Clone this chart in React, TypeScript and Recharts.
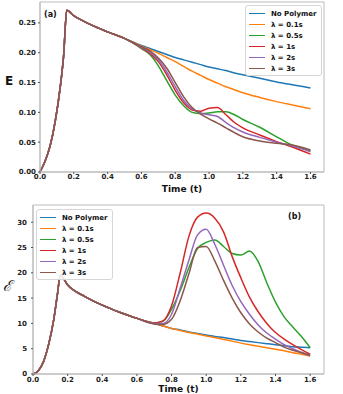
import { LineChart, Line, XAxis, YAxis, ReferenceArea, Label } from 'recharts';

const seriesNames = ['No Polymer', 'λ = 0.1s', 'λ = 0.5s', 'λ = 1s', 'λ = 2s', 'λ = 3s'];
const seriesColors = ['#1f77b4', '#ff7f0e', '#2ca02c', '#d62728', '#9467bd', '#8c564b'];

const xTicks = [0, 0.2, 0.4, 0.6, 0.8, 1.0, 1.2, 1.4, 1.6];
const eTicks = [0, 0.05, 0.1, 0.15, 0.2, 0.25];
const energyTicks = [0, 5, 10, 15, 20, 25, 30];

// (a) E(t) -- shared part up to t = 0.5, then one tail per series
const timeA = [0, 0.03, 0.06, 0.09, 0.12, 0.14, 0.158, 0.2, 0.3, 0.4, 0.5,
  0.6, 0.65, 0.7, 0.75, 0.8, 0.85, 0.9, 0.95, 1.0, 1.05, 1.1, 1.15, 1.2, 1.3, 1.4, 1.5, 1.6];
const riseA = [0, 0.018, 0.044, 0.085, 0.143, 0.196, 0.271, 0.262, 0.247, 0.235, 0.224];
const noPolymerA = [0.212, 0.207, 0.202, 0.197, 0.192, 0.188, 0.184, 0.18, 0.176, 0.173, 0.17, 0.166, 0.163, 0.157, 0.151, 0.146, 0.141];
const lam01A = [0.211, 0.205, 0.199, 0.192, 0.185, 0.177, 0.169, 0.162, 0.155, 0.149, 0.143, 0.138, 0.133, 0.125, 0.118, 0.112, 0.106];
const lam05A = [0.207, 0.197, 0.178, 0.153, 0.129, 0.111, 0.1, 0.098, 0.099, 0.101, 0.101, 0.096, 0.088, 0.075, 0.059, 0.044, 0.036];
const lam1A = [0.208, 0.199, 0.185, 0.163, 0.137, 0.116, 0.104, 0.102, 0.107, 0.108, 0.096, 0.083, 0.074, 0.062, 0.051, 0.041, 0.03];
const lam2A = [0.209, 0.201, 0.188, 0.168, 0.143, 0.12, 0.106, 0.099, 0.096, 0.093, 0.083, 0.074, 0.067, 0.058, 0.05, 0.043, 0.034];
const lam3A = [0.21, 0.203, 0.191, 0.174, 0.15, 0.126, 0.108, 0.097, 0.089, 0.082, 0.074, 0.066, 0.059, 0.052, 0.048, 0.045, 0.037];

// (b) energy -- shared part up to t = 0.6
const timeB = [0, 0.03, 0.06, 0.09, 0.12, 0.14, 0.158, 0.2, 0.3, 0.4, 0.5, 0.6,
  0.7, 0.75, 0.8, 0.85, 0.9, 0.95, 1.0, 1.05, 1.1, 1.15, 1.2, 1.25, 1.3, 1.35, 1.4, 1.45, 1.5, 1.55, 1.6];
const riseB = [0, 0.6, 2.4, 5.8, 10.8, 15.5, 19.5, 17.6, 15.3, 13.6, 12.2, 11.0];
const noPolymerB = [10.0, 9.5, 9.0, 8.7, 8.3, 8.0, 7.7, 7.4, 7.2, 6.9, 6.6, 6.4, 6.2, 6.0, 5.8, 5.6, 5.4, 5.3, 5.2];
const lam01B = [10.0, 9.5, 9.0, 8.6, 8.2, 7.9, 7.5, 7.2, 6.8, 6.5, 6.1, 5.8, 5.5, 5.2, 4.9, 4.6, 4.2, 3.9, 3.55];
const lam05B = [10.1, 10.4, 12.8, 16.5, 21.0, 24.8, 26.0, 26.5, 25.2, 23.8, 23.5, 24.3, 22.2, 18.0, 14.2, 11.3, 9.3, 7.4, 5.2];
const lam1B = [10.1, 10.5, 13.5, 20.0, 27.2, 31.0, 31.8, 30.8, 28.1, 23.2, 19.0, 15.2, 12.3, 10.0, 8.2, 6.9, 5.8, 4.8, 3.9];
const lam2B = [10.0, 10.0, 11.8, 17.0, 22.5, 27.5, 28.6, 25.6, 21.5, 17.5, 14.3, 11.8, 9.7, 8.1, 6.9, 5.8, 5.0, 4.3, 3.6];
const lam3B = [9.9, 9.8, 10.8, 14.5, 19.8, 25.0, 25.2, 22.3, 18.5, 15.0, 12.1, 9.9, 8.3, 7.1, 6.2, 5.3, 4.7, 4.2, 3.75];

function buildRows(time: number[], rise: number[], tails: number[][]) {
  return time.map((t, i) => {
    const row: Record<string, number> = { t };
    tails.forEach((tail, k) => {
      row['s' + k] = i < rise.length ? rise[i] : tail[i - rise.length];
    });
    return row;
  });
}

const dataA = buildRows(timeA, riseA, [noPolymerA, lam01A, lam05A, lam1A, lam2A, lam3A]);
const dataB = buildRows(timeB, riseB, [noPolymerB, lam01B, lam05B, lam1B, lam2B, lam3B]);

const FONT = 'DejaVu Sans';
const tickStyle = { fontSize: 7, fontWeight: 'bold', fill: '#222', fontFamily: FONT };

function LegendBox({ left, top }: { left: number; top: number }) {
  return (
    <div
      style={{
        position: 'absolute',
        left,
        top,
        border: '1px solid #d6d6d6',
        borderRadius: 3,
        background: 'rgba(255,255,255,0.85)',
        padding: '2px 4px 1px 3px',
        fontFamily: FONT,
        fontSize: 7,
        fontWeight: 'bold',
        color: '#111',
      }}
    >
      {seriesNames.map((name, i) => (
        <div key={name} style={{ display: 'flex', alignItems: 'center', height: 11 }}>
          <span style={{ width: 16, borderTop: `1.5px solid ${seriesColors[i]}`, marginRight: 6 }} />
          <span>{name}</span>
        </div>
      ))}
    </div>
  );
}

function seriesLines() {
  return seriesNames.map((name, i) => (
    <Line
      key={name}
      type="monotone"
      dataKey={'s' + i}
      stroke={seriesColors[i]}
      strokeWidth={1.5}
      dot={false}
      isAnimationActive={false}
    />
  ));
}

export default function App() {
  return (
    <div style={{ position: 'absolute', left: 0, top: 0, width: 343, height: 394, background: '#fff' }}>
      <div style={{ position: 'absolute', left: 0, top: 0 }}>
        <LineChart width={343} height={197} data={dataA} margin={{ top: 2, right: 19, left: 0, bottom: 0 }}>
          <XAxis
            dataKey="t"
            type="number"
            domain={[0, 1.68]}
            ticks={xTicks}
            tickFormatter={(v: number) => v.toFixed(1)}
            height={25}
            tick={tickStyle}
            tickSize={2}
            tickMargin={0}
            stroke="#bbb"
            tickLine={{ stroke: '#555' }}
          >
            <Label value="Time (t)" position="insideBottom" offset={5} style={{ fontSize: 9, fontWeight: 'bold', fill: '#111', fontFamily: FONT }} />
          </XAxis>
          <YAxis
            type="number"
            domain={[0, 0.285]}
            ticks={eTicks}
            tickFormatter={(v: number) => v.toFixed(2)}
            width={40}
            tick={tickStyle}
            tickSize={2}
            tickMargin={2}
            stroke="#bbb"
            tickLine={{ stroke: '#555' }}
          >
            <Label value="E" position="insideLeft" offset={5} dy={-6} style={{ fontSize: 12, fontWeight: 'bold', fill: '#111', fontFamily: FONT }} />
          </YAxis>
          <ReferenceArea x1={0} x2={1.68} y1={0} y2={0.285} fill="none" stroke="#bbb" strokeWidth={1} />
          {seriesLines()}
        </LineChart>
      </div>

      <div style={{ position: 'absolute', left: 0, top: 195 }}>
        <LineChart width={343} height={199} data={dataB} margin={{ top: 10, right: 19, left: 0, bottom: 0 }}>
          <XAxis
            dataKey="t"
            type="number"
            domain={[0, 1.68]}
            ticks={xTicks}
            tickFormatter={(v: number) => v.toFixed(1)}
            height={20}
            tick={tickStyle}
            tickSize={2}
            tickMargin={1}
            stroke="#bbb"
            tickLine={{ stroke: '#555' }}
          >
            <Label value="Time (t)" position="insideBottom" offset={2} style={{ fontSize: 9, fontWeight: 'bold', fill: '#111', fontFamily: FONT }} />
          </XAxis>
          <YAxis
            type="number"
            domain={[0, 33.4]}
            ticks={energyTicks}
            width={33}
            tick={tickStyle}
            tickSize={2}
            tickMargin={4}
            stroke="#bbb"
            tickLine={{ stroke: '#555' }}
          >
            <Label value="ℰ" position="insideLeft" offset={3} dy={-4} style={{ fontSize: 15, fill: '#111', fontFamily: 'DejaVu Serif', fontStyle: 'italic' }} />
          </YAxis>
          <ReferenceArea x1={0} x2={1.68} y1={0} y2={33.4} fill="none" stroke="#bbb" strokeWidth={1} />
          {seriesLines()}
        </LineChart>
      </div>

      <LegendBox left={245} top={5} />
      <LegendBox left={36} top={209} />

      <div style={{ position: 'absolute', left: 44, top: 10, fontFamily: FONT, fontSize: 8, fontWeight: 'bold', color: '#111' }}>(a)</div>
      <div style={{ position: 'absolute', left: 288, top: 212, fontFamily: FONT, fontSize: 8, fontWeight: 'bold', color: '#111' }}>(b)</div>
    </div>
  );
}
